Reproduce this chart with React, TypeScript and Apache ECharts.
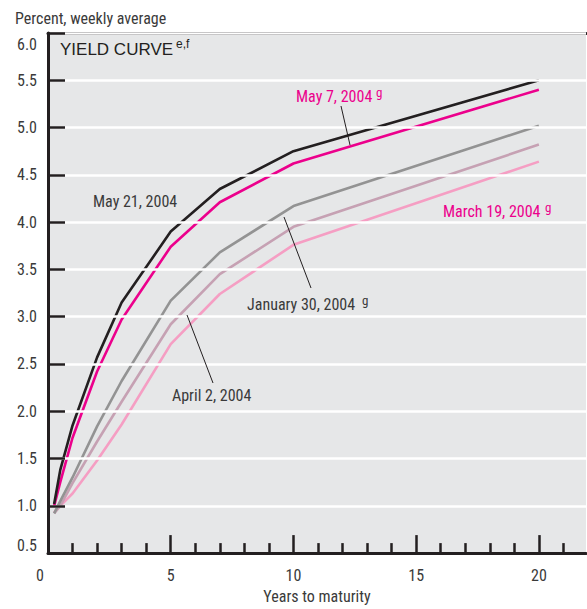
import React, { useEffect, useRef } from "react";
import * as echarts from "echarts";

const maturities = [0.25, 0.5, 1, 2, 3, 5, 7, 10, 20];
const may21 = [1.02, 1.38, 1.85, 2.57, 3.15, 3.9, 4.35, 4.75, 5.5];
const may7 = [1.0, 1.25, 1.72, 2.42, 2.97, 3.74, 4.21, 4.62, 5.4];
const jan30 = [0.92, 1.05, 1.3, 1.84, 2.32, 3.17, 3.68, 4.17, 5.02];
const apr2 = [0.92, 1.0, 1.24, 1.68, 2.1, 2.92, 3.45, 3.95, 4.82];
const mar19 = [0.93, 1.0, 1.13, 1.48, 1.86, 2.71, 3.24, 3.76, 4.64];

const xMajorTicks = [0, 5, 10, 15, 20];
const xMinorTicks = [1, 2, 3, 4, 6, 7, 8, 9, 11, 12, 13, 14, 16, 17, 18, 19, 21];

const NARROW = "'Liberation Sans Narrow', 'Arial Narrow', 'Roboto Condensed', sans-serif";
const WIDE = "'Liberation Sans', Arial, Helvetica, sans-serif";
const TEXT = "#3a3a3a";
const INK = "#231f20";
const MAGENTA = "#ec008c";

const seriesDefs = [
  { name: "March 19, 2004", data: mar19, color: "#f59ec3" },
  { name: "April 2, 2004", data: apr2, color: "#c6a1b3" },
  { name: "January 30, 2004", data: jan30, color: "#939393" },
  { name: "May 7, 2004", data: may7, color: MAGENTA },
  { name: "May 21, 2004", data: may21, color: INK },
];

function label(text: string, x: number, y: number, color: string) {
  return {
    type: "text",
    x,
    y,
    style: { text, fill: color, fontSize: 16, fontFamily: NARROW, verticalAlign: "middle" },
  };
}
function sup(text: string, x: number, y: number, color: string, size = 13, fam = NARROW) {
  return {
    type: "text",
    x,
    y,
    style: { text, fill: color, fontSize: size, fontFamily: fam, verticalAlign: "middle" },
  };
}
function leader(x1: number, y1: number, x2: number, y2: number) {
  return {
    type: "line",
    shape: { x1, y1, x2, y2 },
    style: { stroke: INK, lineWidth: 1 },
    z: 100,
  };
}

export default function App() {
  const ref = useRef<HTMLDivElement>(null);
  useEffect(() => {
    if (!ref.current) return;
    const chart = echarts.init(ref.current, null, { renderer: "svg" });
    const xBase = { type: "value", min: 0, max: 21.92, gridIndex: 0 };
    chart.setOption({
      animation: false,
      backgroundColor: "#ffffff",
      grid: {
        left: 48,
        right: 1,
        top: 33,
        bottom: 51.5,
        show: true,
        backgroundColor: "#e6e7e8",
        borderWidth: 0,
      },
      xAxis: [
        {
          ...xBase,
          position: "bottom",
          name: "Years to maturity",
          nameLocation: "middle",
          nameGap: 34,
          nameTextStyle: { fontSize: 16, fontFamily: NARROW, color: TEXT },
          axisLine: { show: true, lineStyle: { color: INK, width: 3 } },
          axisTick: {
            show: true,
            inside: true,
            length: 18,
            customValues: xMajorTicks,
            lineStyle: { color: INK, width: 2.5 },
          },
          axisLabel: {
            show: true,
            customValues: xMajorTicks,
            margin: 14,
            fontSize: 16,
            fontFamily: NARROW,
            color: TEXT,
            formatter: (v: number) => (v === 0 ? "{z|0}" : String(v)),
            rich: { z: { fontSize: 16, fontFamily: NARROW, color: TEXT, padding: [0, 16, 0, 0] } },
          },
          splitLine: { show: false },
          z: 5,
        },
        {
          ...xBase,
          position: "bottom",
          axisLine: { show: false },
          axisTick: {
            show: true,
            inside: true,
            length: 10,
            customValues: xMinorTicks,
            lineStyle: { color: INK, width: 2.5 },
          },
          axisLabel: { show: false },
          splitLine: { show: false },
        },
        {
          ...xBase,
          position: "top",
          axisLine: { show: true, lineStyle: { color: INK, width: 3 } },
          axisTick: { show: false },
          axisLabel: { show: false },
          splitLine: { show: false },
        },
      ],
      yAxis: [
        {
          type: "value",
          min: 0.5,
          max: 6,
          interval: 0.5,
          position: "left",
          axisLine: { show: true, lineStyle: { color: INK, width: 3 } },
          axisTick: { show: true, inside: true, length: 17, lineStyle: { color: INK, width: 2.5 } },
          axisLabel: {
            margin: 11,
            fontSize: 16,
            fontFamily: NARROW,
            color: TEXT,
            formatter: (v: number) =>
              v === 6 ? "{t|6.0}" : v === 0.5 ? "{b|0.5}" : v.toFixed(1),
            rich: {
              t: { fontSize: 16, fontFamily: NARROW, color: TEXT, padding: [22, 0, 0, 0] },
              b: { fontSize: 16, fontFamily: NARROW, color: TEXT, padding: [0, 0, 15, 0] },
            },
          },
          splitLine: { show: true, lineStyle: { color: "#ffffff", width: 2.5 } },
          z: 5,
        },
        {
          type: "value",
          min: 0.5,
          max: 6,
          interval: 0.5,
          position: "right",
          axisLine: { show: true, lineStyle: { color: "#8a8a8a", width: 1.5 } },
          axisTick: { show: false },
          axisLabel: { show: false },
          splitLine: { show: false },
        },
      ],
      series: seriesDefs.map((s) => ({
        type: "line",
        name: s.name,
        xAxisIndex: 0,
        yAxisIndex: 0,
        data: maturities.map((m, i) => [m, s.data[i]]),
        showSymbol: false,
        symbol: "none",
        lineStyle: { color: s.color, width: 2.6 },
        itemStyle: { color: s.color },
        z: 3,
      })),
      graphic: [
        {
          type: "text",
          x: 15,
          y: 18,
          style: { text: "Percent, weekly average", fill: TEXT, fontSize: 16, fontFamily: NARROW, verticalAlign: "middle" },
        },
        {
          type: "text",
          x: 60,
          y: 49,
          style: { text: "YIELD CURVE", fill: INK, fontSize: 17, fontFamily: WIDE, verticalAlign: "middle" },
        },
        sup("e,f", 176, 44, INK, 12, WIDE),
        label("May 21, 2004", 93, 201, TEXT),
        label("May 7, 2004", 296, 96, MAGENTA),
        sup("g", 376, 92, MAGENTA),
        label("March 19, 2004", 443, 211, MAGENTA),
        sup("g", 545, 207, MAGENTA),
        label("January 30, 2004", 247, 304, TEXT),
        sup("g", 362, 300, TEXT),
        label("April 2, 2004", 172, 395, TEXT),
        leader(341, 106, 350, 145),
        leader(284, 217, 311, 288),
        leader(187, 315, 213, 383),
      ],
    });
    return () => chart.dispose();
  }, []);
  return <div ref={ref} style={{ width: 587, height: 609, position: "absolute", left: 0, top: 0 }} />;
}
